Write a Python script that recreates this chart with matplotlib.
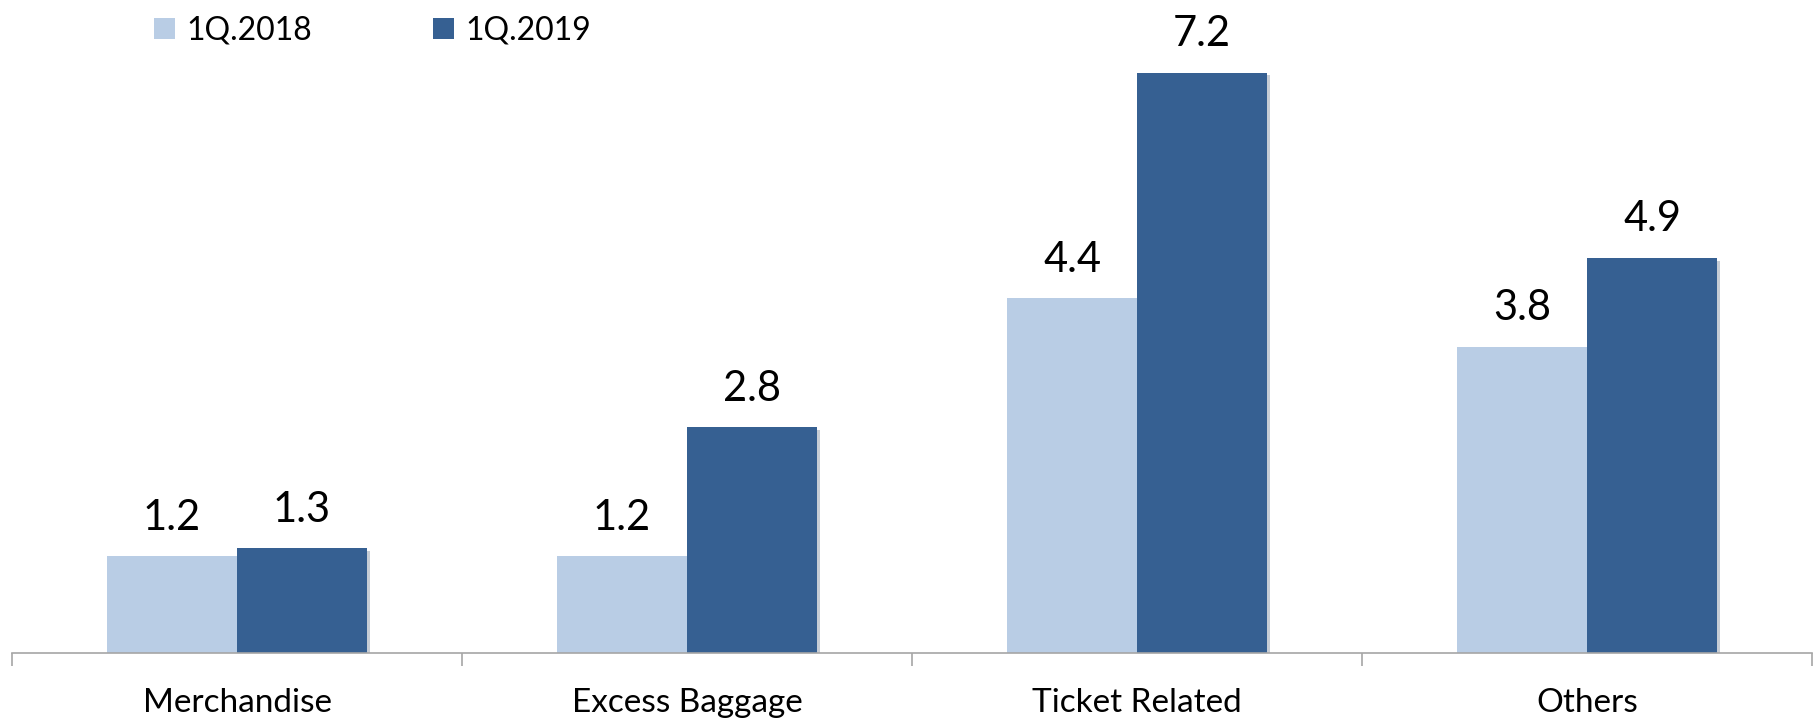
import matplotlib.pyplot as plt
import matplotlib.patheffects as pe
import numpy as np
from matplotlib.patches import Patch

categories = ["Merchandise", "Excess Baggage", "Ticket Related", "Others"]
series_names = ["1Q.2018", "1Q.2019"]
values_2018 = [1.2, 1.2, 4.4, 3.8]
values_2019 = [1.3, 2.8, 7.2, 4.9]

light = "#B9CDE5"
dark = "#366092"

plt.rcParams["font.family"] = ["Lato", "DejaVu Sans"]

fig = plt.figure(figsize=(18.13, 7.23), dpi=100)
ax = fig.add_axes([12 / 1813, 70 / 723, 1800 / 1813, 645 / 723])

x = np.arange(len(categories))
width = 0.289
shadow = [pe.SimplePatchShadow(offset=(2, -2), alpha=0.25, rho=0.6), pe.Normal()]

for vals, color, shift in [(values_2018, light, -width / 2), (values_2019, dark, width / 2)]:
    bars = ax.bar(x + shift, vals, width, color=color, zorder=2)
    for b in bars:
        b.set_path_effects(shadow)
    for b, v in zip(bars, vals):
        ax.annotate(f"{v:.1f}", (b.get_x() + b.get_width() / 2, v),
                    xytext=(0, 14), textcoords="offset points",
                    ha="center", va="bottom", fontsize=30, color="black")

ax.set_xlim(-0.5, len(categories) - 0.5)
ax.set_ylim(0, 8)
ax.set_yticks([])
for side in ["left", "right", "top"]:
    ax.spines[side].set_visible(False)
ax.spines["bottom"].set_color("#A6A6A6")
ax.spines["bottom"].set_linewidth(1.2)

ax.set_xticks(np.arange(len(categories) + 1) - 0.5, minor=True)
ax.set_xticks(x)
ax.set_xticklabels(categories, fontsize=24)
ax.tick_params(axis="x", which="major", length=0, pad=25)
ax.tick_params(axis="x", which="minor", length=9, width=1.2, color="#A6A6A6", direction="out")

handles = [Patch(facecolor=light, label=series_names[0]),
           Patch(facecolor=dark, label=series_names[1])]
fig.legend(handles=handles, loc="upper left", bbox_to_anchor=(138 / 1813, 1.0),
           ncol=2, frameon=False, fontsize=23, handlelength=0.65, handleheight=0.65,
           handletextpad=0.35, columnspacing=3.8, borderaxespad=0.1)

fig.savefig("out.png", dpi=100)
